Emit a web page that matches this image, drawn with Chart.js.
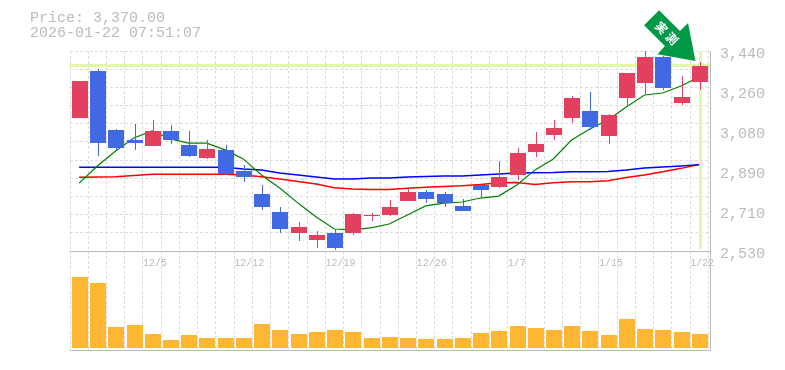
<!DOCTYPE html>
<html>
<head>
<meta charset="utf-8">
<title>Price chart</title>
<script src="https://cdn.jsdelivr.net/npm/chart.js@4"></script>
<style>
  html, body { margin: 0; padding: 0; background: #fff; }
  canvas { display: block; }
</style>
</head>
<body>
<canvas id="myChart" width="785" height="370"></canvas>
<script>
const dates = ['12/1','12/2','12/3','12/4','12/5','12/8','12/9','12/10','12/11','12/12','12/15','12/16','12/17','12/18','12/19','12/22','12/23','12/24','12/25','12/26','12/29','12/30','1/5','1/6','1/7','1/8','1/9','1/13','1/14','1/15','1/16','1/19','1/20','1/21','1/22'];
const shownDates = ['12/5','12/12','12/19','12/26','1/7','1/15','1/22'];

const opens  = [3135,3349,3081,3035,3008,3076,3012,2953,2990,2894,2789,2707,2612,2580,2612,2612,2689,2694,2757,2798,2789,2735,2830,2821,2876,2981,3058,3135,3167,3053,3226,3294,3413,3203,3299];
const closes = [3304,3021,2999,3021,3076,3035,2962,2994,2880,2867,2730,2630,2639,2603,2544,2698,2694,2730,2798,2767,2748,2712,2808,2867,2976,3017,3090,3226,3094,3149,3340,3413,3272,3231,3370];
const highs  = [3304,3358,3085,3108,3126,3103,3076,3035,3012,2921,2830,2730,2662,2621,2630,2703,2703,2762,2821,2808,2798,2767,2835,2940,2999,3071,3126,3235,3253,3153,3340,3440,3431,3326,3390];
const lows   = [3135,2962,2990,2990,3008,3017,2958,2949,2876,2844,2717,2612,2575,2544,2535,2603,2666,2689,2757,2748,2730,2712,2776,2817,2853,2958,3035,3112,3081,3017,3194,3240,3263,3194,3263];

const maShort = [2839,2917,2985,3044,3076,3040,3021,3021,2990,2949,2876,2817,2748,2685,2630,2626,2635,2653,2694,2735,2748,2753,2771,2780,2830,2899,2949,3035,3085,3126,3185,3240,3249,3281,3322];
const maMid   = [2911,2911,2911,2911,2911,2911,2911,2911,2911,2903,2899,2885,2876,2867,2858,2858,2862,2862,2867,2869,2871,2871,2876,2880,2885,2886,2887,2891,2891,2892,2899,2908,2912,2917,2923];
const maLong  = [2865,2867,2868,2874,2879,2879,2879,2879,2879,2876,2868,2858,2846,2835,2818,2812,2810,2810,2815,2820,2823,2827,2833,2841,2842,2833,2841,2845,2845,2850,2864,2876,2891,2906,2924];

const volumes = [71,65,21,23,14,8,13,10,10,10,24,18,14,16,18,16,10,11,10,9,9,10,15,17,22,20,18,22,17,13,29,19,18,16,14];

const priceTicks = [3440,3258,3076,2894,2712,2530];
const gridTicks = [3440,3357,3275,3192,3109,3026,2944,2861,2778,2695,2613];
const lastPrice = 3370;
const priceBottom = 2530;

const RED = '#e34060';
const BLUE = '#4169e1';
const GRAY = '#bbbbbb';
const GRID = '#dddddd';
const BAND = '#e4f6a8';
const ARROW = '#009a46';

const candleColors = opens.map((o, i) => closes[i] >= o ? RED : BLUE);

// price axis is stretched past 2530 so the volume panel shares the same plot
const priceMax = 3440;
const priceMin = 2079.55;

const setTicks = list => scale => { scale.ticks = list.map(v => ({ value: v })); };

// the day columns stop a little short of the right border
const narrowColumns = {
  id: 'narrowColumns',
  afterLayout(chart) {
    ['x', 'dateLabels'].forEach(id => {
      chart.scales[id].right -= 1.7;
      chart.scales[id].configure();
    });
  }
};

// keep bars on whole pixels, the original chart has no soft edges
const snapBars = {
  id: 'snapBars',
  afterDatasetsUpdate(chart) {
    chart.data.datasets.forEach((ds, i) => {
      if (ds.type !== 'bar') return;
      chart.getDatasetMeta(i).data.forEach(el => {
        el.x = Math.round(el.x + 0.7) + (ds.barThickness === 1 ? 0.5 : 0);
        el.y = Math.round(el.y);
        el.base = Math.round(el.base);
      });
    });
  }
};

const bands = {
  id: 'bands',
  beforeDatasetsDraw(chart) {
    const { ctx, chartArea, scales } = chart;
    const y = Math.round(scales.price.getPixelForValue(lastPrice));
    const x = Math.round(scales.x.getPixelForValue(dates.length - 1));
    ctx.save();
    ctx.fillStyle = BAND;
    ctx.fillRect(chartArea.left, y - 2, chartArea.width, 3);
    ctx.fillRect(x, chartArea.top, 3, scales.price.getPixelForValue(priceBottom) - chartArea.top - 2);
    ctx.restore();
  }
};

const arrow = {
  id: 'arrow',
  afterDraw(chart) {
    const { ctx, scales } = chart;
    const tipX = scales.x.getPixelForValue(dates.length - 1) - 3.7;
    const tipY = scales.price.getPixelForValue(lastPrice) - 5.5;
    const shape = [[-51.4,-35.7],[-36.4,-50.7],[-15.5,-29.8],[-7.4,-38],[0,0],[-38,-6.7],[-30.5,-14.8]];
    ctx.save();
    ctx.translate(tipX, tipY);
    ctx.beginPath();
    shape.forEach((p, i) => i ? ctx.lineTo(p[0], p[1]) : ctx.moveTo(p[0], p[1]));
    ctx.closePath();
    ctx.strokeStyle = '#ffffff';
    ctx.lineWidth = 1.5;
    ctx.stroke();
    ctx.fillStyle = ARROW;
    ctx.fill();
    ctx.translate(-28.7, -27.7);
    ctx.rotate(Math.PI / 4);
    ctx.fillStyle = '#ffffff';
    ctx.font = 'bold 12px "Noto Sans CJK JP"';
    ctx.textAlign = 'center';
    ctx.textBaseline = 'middle';
    ctx.letterSpacing = '3px';
    ctx.fillText('実測', 1.5, 0);
    ctx.restore();
  }
};

const lineSet = (values, color, width) => ({
  type: 'line', data: values, yAxisID: 'price', borderColor: color,
  borderWidth: width, pointRadius: 0, tension: 0, order: 3
});

const isBottom = ctx => ctx.tick && ctx.tick.value === priceMin;

new Chart(document.getElementById('myChart').getContext('2d'), {
  type: 'bar',
  plugins: [narrowColumns, snapBars, bands, arrow],
  data: {
    labels: dates,
    datasets: [
      { type: 'bar', data: volumes, yAxisID: 'vol', backgroundColor: '#ffb733', barThickness: 16, grouped: false, inflateAmount: 0, order: 2 },
      lineSet(maShort, '#008000', 1.2),
      lineSet(maMid, '#0000ff', 1.5),
      lineSet(maLong, '#ff0000', 1.5),
      { type: 'bar', data: lows.map((l, i) => [l, highs[i]]), yAxisID: 'price', backgroundColor: candleColors, barThickness: 1, grouped: false, inflateAmount: 0, order: 1 },
      { type: 'bar', data: opens.map((o, i) => [o, closes[i]]), yAxisID: 'price', backgroundColor: candleColors, barThickness: 16, grouped: false, inflateAmount: 0, order: 0 }
    ]
  },
  options: {
    responsive: false,
    animation: false,
    devicePixelRatio: 1,
    layout: { padding: { left: 30, right: 0, top: 0, bottom: 20 } },
    plugins: {
      legend: { display: false },
      tooltip: { enabled: false },
      title: {
        display: true,
        text: ['Price: 3,370.00', '2026-01-22 07:51:07'],
        align: 'start',
        color: GRAY,
        font: { family: '"Liberation Mono"', size: 15, weight: 'normal', lineHeight: 1 },
        padding: { top: 11, bottom: 10 }
      }
    },
    scales: {
      x: {
        grid: { color: GRID, offset: true, drawTicks: false },
        border: { display: false, dash: [3, 2] },
        ticks: { display: false }
      },
      dateLabels: {
        type: 'category',
        axis: 'x',
        offset: true,
        position: { price: priceBottom },
        grid: { display: false, drawTicks: false },
        border: { display: false },
        ticks: {
          autoSkip: false,
          maxRotation: 0,
          align: 'start',
          labelOffset: -9,
          padding: 6,
          color: GRAY,
          font: { family: '"Liberation Mono"', size: 10 },
          callback(v) {
            const label = this.getLabelForValue(v);
            return shownDates.includes(label) ? label : '';
          }
        }
      },
      gridY: {
        position: 'left',
        min: priceMin,
        max: priceMax,
        afterBuildTicks: setTicks(gridTicks.concat(priceMin)),
        afterFit(scale) { scale.width = 40; },
        grid: { color: ctx => isBottom(ctx) ? GRAY : GRID, drawTicks: false },
        border: { display: false, dash: ctx => isBottom(ctx) ? [] : [3, 2] },
        ticks: { display: false }
      },
      price: {
        position: 'right',
        min: priceMin,
        max: priceMax,
        afterBuildTicks: setTicks(priceTicks),
        afterFit(scale) { scale.width = 75; },
        grid: {
          drawTicks: false,
          color: ctx => ctx.tick && ctx.tick.value === priceBottom ? GRAY : 'rgba(0,0,0,0)'
        },
        border: { color: GRAY, width: 1 },
        ticks: {
          padding: 10,
          labelOffset: 3,
          color: GRAY,
          font: { family: '"Liberation Mono"', size: 15 },
          callback: v => (Math.round(v / 10) * 10).toLocaleString('en-US')
        }
      },
      vol: {
        display: false,
        min: -2,
        max: 297
      }
    }
  }
});
</script>
</body>
</html>
